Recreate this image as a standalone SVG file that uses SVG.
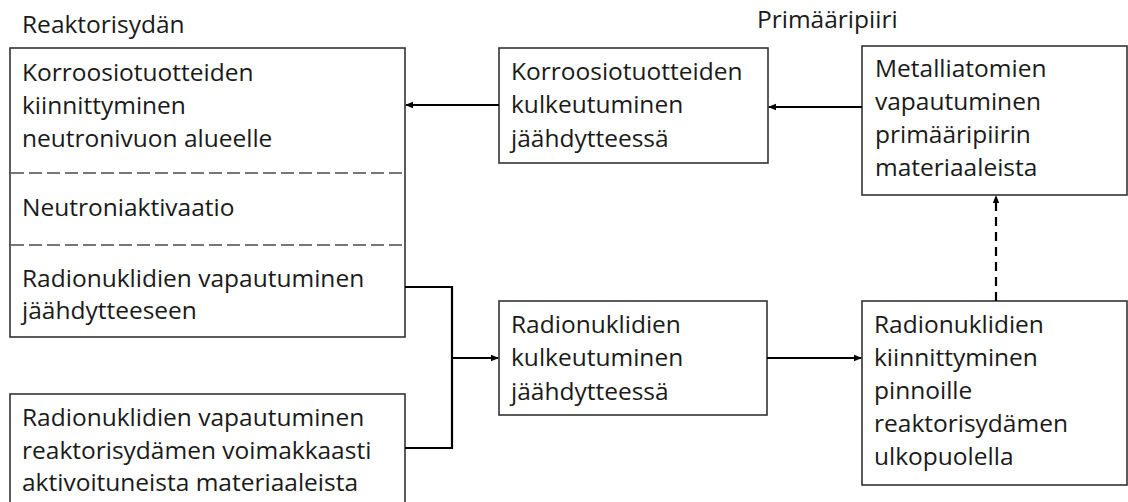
<svg xmlns="http://www.w3.org/2000/svg" width="1128" height="502" viewBox="0 0 1128 502">
  <style>
    text { font-family: "Open Sans", "Noto Sans", "Liberation Sans", sans-serif; font-size: 24.5px; fill: #1a1a1a; }
    .box { fill: #ffffff; stroke: #333333; stroke-width: 1.6; }
    .sep { stroke: #4a4a4a; stroke-width: 1.5; stroke-dasharray: 13 5; fill: none; }
    .conn { stroke: #000000; stroke-width: 2.2; fill: none; }
    .dash { stroke: #000000; stroke-width: 2.2; fill: none; stroke-dasharray: 9 6; }
  </style>
  <defs>
    <marker id="arrow" markerWidth="8" markerHeight="8" refX="7" refY="4" orient="auto" markerUnits="userSpaceOnUse">
      <path d="M0,0.8 L8,4 L0,7.2 Z" fill="#000000"/>
    </marker>
  </defs>
  <rect width="1128" height="502" fill="#ffffff"/>

  <g id="labels">
    <text x="22" y="33">Reaktorisydän</text>
    <text x="757" y="28">Primääripiiri</text>
  </g>

  <g id="node-reaktorisydan">
    <rect class="box" x="10" y="48" width="395" height="289"/>
    <line class="sep" x1="11" y1="173" x2="404" y2="173"/>
    <line class="sep" x1="11" y1="245" x2="404" y2="245"/>
    <text x="22" y="81">Korroosiotuotteiden</text>
    <text x="22" y="114">kiinnittyminen</text>
    <text x="22" y="147">neutronivuon alueelle</text>
    <text x="22" y="216">Neutroniaktivaatio</text>
    <text x="22" y="287">Radionuklidien vapautuminen</text>
    <text x="22" y="319">jäähdytteeseen</text>
  </g>

  <g id="node-materiaalit">
    <rect class="box" x="10" y="394" width="395" height="120"/>
    <text x="22" y="426">Radionuklidien vapautuminen</text>
    <text x="22" y="459">reaktorisydämen voimakkaasti</text>
    <text x="22" y="491">aktivoituneista materiaaleista</text>
  </g>

  <g id="node-korroosio-kulkeutuminen">
    <rect class="box" x="499" y="48" width="269" height="115"/>
    <text x="511" y="80">Korroosiotuotteiden</text>
    <text x="511" y="113">kulkeutuminen</text>
    <text x="511" y="147">jäähdytteessä</text>
  </g>

  <g id="node-metalliatomit">
    <rect class="box" x="862" y="46" width="265" height="149"/>
    <text x="875" y="77">Metalliatomien</text>
    <text x="875" y="110">vapautuminen</text>
    <text x="875" y="143">primääripiirin</text>
    <text x="875" y="176">materiaaleista</text>
  </g>

  <g id="node-radionuklidi-kulkeutuminen">
    <rect class="box" x="499" y="301" width="268" height="114"/>
    <text x="511" y="333">Radionuklidien</text>
    <text x="511" y="366">kulkeutuminen</text>
    <text x="511" y="400">jäähdytteessä</text>
  </g>

  <g id="node-kiinnittyminen">
    <rect class="box" x="862" y="301" width="265" height="184"/>
    <text x="874" y="333">Radionuklidien</text>
    <text x="874" y="366">kiinnittyminen</text>
    <text x="874" y="399">pinnoille</text>
    <text x="874" y="432">reaktorisydämen</text>
    <text x="874" y="465">ulkopuolella</text>
  </g>

  <g id="connectors">
    <line class="conn" x1="499" y1="105" x2="406" y2="105" marker-end="url(#arrow)"/>
    <line class="conn" x1="862" y1="107" x2="769" y2="107" marker-end="url(#arrow)"/>
    <polyline class="conn" points="405,287 452,287 452,448 405,448"/>
    <line class="conn" x1="452" y1="358" x2="498" y2="358" marker-end="url(#arrow)"/>
    <line class="conn" x1="767" y1="358" x2="861" y2="358" marker-end="url(#arrow)"/>
    <line class="dash" x1="996" y1="301" x2="996" y2="196" marker-end="url(#arrow)"/>
  </g>
</svg>
